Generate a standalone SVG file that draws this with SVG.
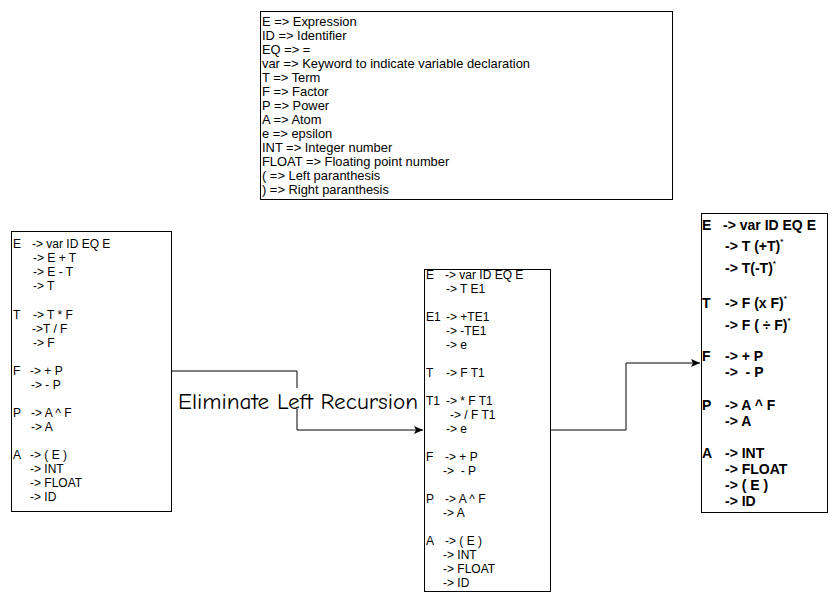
<svg xmlns="http://www.w3.org/2000/svg" width="837" height="601" viewBox="0 0 837 601">
<defs>
<marker id="arr" markerWidth="10" markerHeight="8" refX="9" refY="4" orient="auto" markerUnits="userSpaceOnUse">
<path d="M0,0 L9,4 L0,8 L2,4 Z" fill="#000"/>
</marker>
<style>
.box{fill:#fff;stroke:#000;stroke-width:1}
.t{font-family:"Liberation Sans",Arial,sans-serif;font-size:12px;fill:#000}
.lg{font-family:"Liberation Sans",Arial,sans-serif;font-size:12.9px;fill:#000}
.b{font-family:"Liberation Sans",Arial,sans-serif;font-size:14px;font-weight:bold;fill:#000}
.sup{font-size:8px}
.edge{fill:none;stroke:#000;stroke-width:1}
.lbl{font-family:"Comic Sans MS","Comic Neue",cursive;font-size:22px;fill:#000}
</style>
</defs>
<rect width="837" height="601" fill="#fff"/>
<g id="legend">
<rect class="box" x="260.5" y="11.5" width="412" height="188"/>
<text class="lg" x="262" y="26">E =&gt; Expression</text>
<text class="lg" x="262" y="40">ID =&gt; Identifier</text>
<text class="lg" x="262" y="54">EQ =&gt; =</text>
<text class="lg" x="262" y="68">var =&gt; Keyword to indicate variable declaration</text>
<text class="lg" x="262" y="82">T =&gt; Term</text>
<text class="lg" x="262" y="96">F =&gt; Factor</text>
<text class="lg" x="262" y="110">P =&gt; Power</text>
<text class="lg" x="262" y="124">A =&gt; Atom</text>
<text class="lg" x="262" y="138">e =&gt; epsilon</text>
<text class="lg" x="262" y="152">INT =&gt; Integer number</text>
<text class="lg" x="262" y="166">FLOAT =&gt; Floating point number</text>
<text class="lg" x="262" y="180">( =&gt; Left paranthesis</text>
<text class="lg" x="262" y="194">) =&gt; Right paranthesis</text>
</g>
<g id="edges">
<polyline class="edge" points="171,371 297,371 297,430 423,430" marker-end="url(#arr)"/>
<rect x="177" y="388" width="242" height="21" fill="#fff"/>
<text class="lbl" x="178" y="409" textLength="240" lengthAdjust="spacingAndGlyphs">Eliminate Left Recursion</text>
<polyline class="edge" points="550,430 626,430 626,363 700,363" marker-end="url(#arr)"/>
</g>
<g id="original">
<rect class="box" x="11.5" y="231.5" width="160" height="280"/>
<text class="t" x="13" y="248">E</text><text class="t" x="32" y="248">-&gt; var ID EQ E</text>
<text class="t" x="33" y="262">-&gt; E + T</text>
<text class="t" x="33" y="276">-&gt; E - T</text>
<text class="t" x="33" y="290">-&gt; T</text>
<text class="t" x="13" y="319">T</text><text class="t" x="33" y="319">-&gt; T * F</text>
<text class="t" x="32" y="333">-&gt;T / F</text>
<text class="t" x="33" y="347">-&gt; F</text>
<text class="t" x="13" y="375">F</text><text class="t" x="30" y="375">-&gt; + P</text>
<text class="t" x="31" y="389">-&gt; - P</text>
<text class="t" x="13" y="417">P</text><text class="t" x="31" y="417">-&gt; A ^ F</text>
<text class="t" x="31" y="431">-&gt; A</text>
<text class="t" x="13" y="459">A</text><text class="t" x="30" y="459">-&gt; ( E )</text>
<text class="t" x="30" y="473">-&gt; INT</text>
<text class="t" x="30" y="487">-&gt; FLOAT</text>
<text class="t" x="30" y="501">-&gt; ID</text>
</g>
<g id="transformed">
<rect class="box" x="424.5" y="269.5" width="126" height="322"/>
<text class="t" x="426" y="279">E</text><text class="t" x="445" y="279">-&gt; var ID EQ E</text>
<text class="t" x="446" y="293">-&gt; T E1</text>
<text class="t" x="426" y="321">E1</text><text class="t" x="446" y="321">-&gt; +TE1</text>
<text class="t" x="446" y="335">-&gt; -TE1</text>
<text class="t" x="446" y="349">-&gt; e</text>
<text class="t" x="426" y="377">T</text><text class="t" x="446" y="377">-&gt; F T1</text>
<text class="t" x="426" y="405">T1</text><text class="t" x="446" y="405">-&gt; * F T1</text>
<text class="t" x="450" y="419">-&gt; / F T1</text>
<text class="t" x="446" y="433">-&gt; e</text>
<text class="t" x="426" y="461">F</text><text class="t" x="445" y="461">-&gt; + P</text>
<text class="t" x="443" y="475" xml:space="preserve">-&gt;  - P</text>
<text class="t" x="426" y="503">P</text><text class="t" x="445" y="503">-&gt; A ^ F</text>
<text class="t" x="443" y="517">-&gt; A</text>
<text class="t" x="426" y="545">A</text><text class="t" x="445" y="545">-&gt; ( E )</text>
<text class="t" x="443" y="559">-&gt; INT</text>
<text class="t" x="443" y="573">-&gt; FLOAT</text>
<text class="t" x="443" y="587">-&gt; ID</text>
</g>
<g id="ebnf">
<rect class="box" x="701.5" y="213.5" width="126" height="299"/>
<text class="b" x="702" y="230">E</text><text class="b" x="723" y="230">-&gt; var ID EQ E</text>
<text class="b" x="725" y="251">-&gt; T (+T)<tspan class="sup" dy="-7">*</tspan></text>
<text class="b" x="725" y="273">-&gt; T(-T)<tspan class="sup" dy="-7">*</tspan></text>
<text class="b" x="702" y="308">T</text><text class="b" x="725" y="308">-&gt; F (x F)<tspan class="sup" dy="-7">*</tspan></text>
<text class="b" x="725" y="330">-&gt; F ( ÷ F)<tspan class="sup" dy="-7">*</tspan></text>
<text class="b" x="702" y="361">F</text><text class="b" x="725" y="361">-&gt; + P</text>
<text class="b" x="725" y="377" xml:space="preserve">-&gt;  - P</text>
<text class="b" x="702" y="410">P</text><text class="b" x="725" y="410">-&gt; A ^ F</text>
<text class="b" x="725" y="426">-&gt; A</text>
<text class="b" x="702" y="458">A</text><text class="b" x="725" y="458">-&gt; INT</text>
<text class="b" x="725" y="474">-&gt; FLOAT</text>
<text class="b" x="725" y="490">-&gt; ( E )</text>
<text class="b" x="725" y="506">-&gt; ID</text>
</g>
</svg>
